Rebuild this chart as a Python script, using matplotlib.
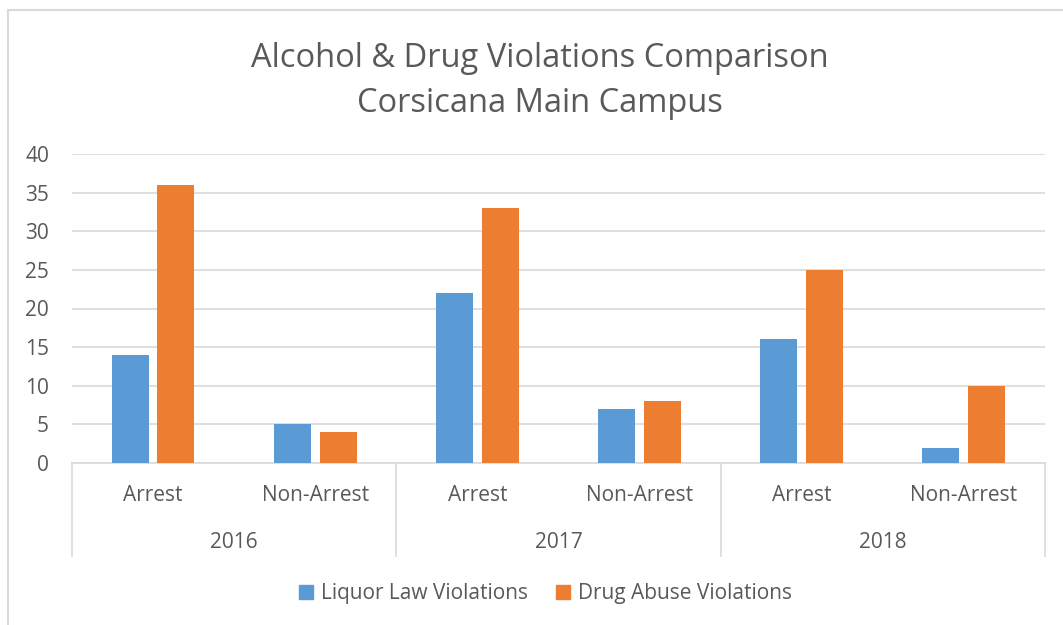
import matplotlib
matplotlib.use('Agg')
import matplotlib.pyplot as plt
import matplotlib.transforms as mtransforms
from matplotlib.patches import Rectangle, Patch

# datos
years = ['2016', '2017', '2018']
tipos = ['Arrest', 'Non-Arrest']
liquor = [14, 5, 22, 7, 16, 2]
drug = [36, 4, 33, 8, 25, 10]

azul = '#5b9bd5'
naranja = '#ed7d31'
gris_texto = '#595959'
gris_linea = '#d9d9d9'

plt.rcParams['font.family'] = ['Open Sans', 'DejaVu Sans']

fig = plt.figure(figsize=(10.63, 6.25), dpi=100)
ax = fig.add_axes([0.0677, 0.2592, 0.9153, 0.4944])

n = len(liquor)
centros = [i + 0.5 for i in range(n)]
ancho = 0.228
off = 0.141
ax.bar([c - off for c in centros], liquor, ancho, color=azul, zorder=3)
ax.bar([c + off for c in centros], drug, ancho, color=naranja, zorder=3)

ax.set_xlim(0, n)
ax.set_ylim(0, 40)
ax.set_yticks(range(0, 41, 5))
ax.yaxis.grid(True, color=gris_linea, linewidth=1.2, zorder=0)
ax.tick_params(axis='y', length=0, pad=16.5, labelsize=15, labelcolor=gris_texto)
ax.set_xticks([])
for s in ['top', 'right', 'left']:
    ax.spines[s].set_visible(False)
ax.spines['bottom'].set_color(gris_linea)
ax.spines['bottom'].set_linewidth(1.2)

# eje multinivel
trans = mtransforms.blended_transform_factory(ax.transData, ax.transAxes)
for k in range(len(years) + 1):
    ax.plot([2 * k, 2 * k], [0, -0.301], transform=trans, color=gris_linea,
            linewidth=1.2, clip_on=False)
for i, c in enumerate(centros):
    ax.text(c, -0.104, tipos[i % 2], transform=trans, ha='center', va='center',
            fontsize=15, color=gris_texto)
for k, y in enumerate(years):
    ax.text(2 * k + 1, -0.256, y, transform=trans, ha='center', va='center',
            fontsize=15, color=gris_texto)

fig.text(0.508, 0.906, 'Alcohol & Drug Violations Comparison', ha='center', va='center',
         fontsize=23.5, color=gris_texto)
fig.text(0.508, 0.835, 'Corsicana Main Campus', ha='center', va='center',
         fontsize=23.5, color=gris_texto)

handles = [Patch(color=azul), Patch(color=naranja)]
fig.legend(handles, ['Liquor Law Violations', 'Drug Abuse Violations'], loc='center',
           bbox_to_anchor=(0.513, 0.050), ncol=2, frameon=False, fontsize=15,
           labelcolor=gris_texto, handlelength=0.7, handleheight=0.7,
           handletextpad=0.35, columnspacing=1.35)

# borde exterior
fig.patches.append(Rectangle((8 / 1063, -0.05), 1.2, 1.05 - 10 / 625, transform=fig.transFigure,
                             fill=False, edgecolor=gris_linea, linewidth=1.5))

fig.savefig('out.png', dpi=100)
